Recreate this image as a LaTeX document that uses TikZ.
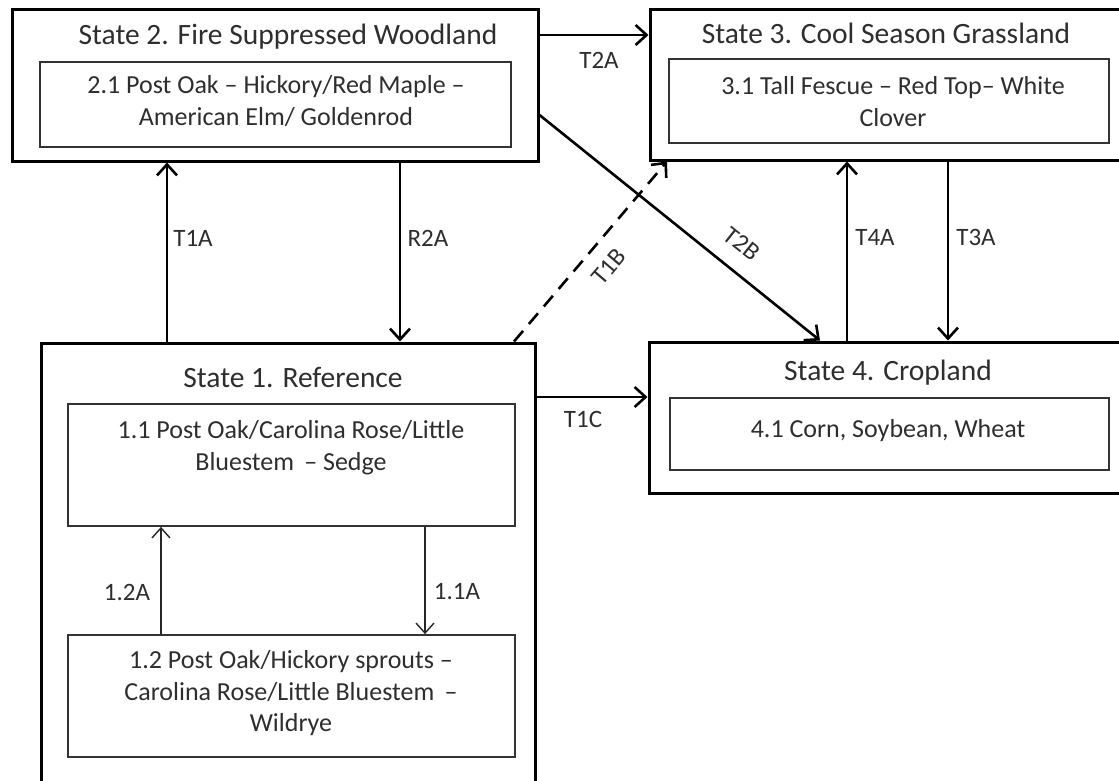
\documentclass[tikz,border=0pt]{standalone}
\usepackage{fontspec}
\setmainfont{Carlito}
\usetikzlibrary{arrows.meta}
\begin{document}
\begin{tikzpicture}[x=1pt,y=-1pt,
  outerbox/.style={draw=black,line width=3pt,rectangle,inner sep=0pt},
  innerbox/.style={draw=black!80,line width=1.8pt,rectangle,inner sep=0pt},
  title/.style={text=black!82,font=\fontsize{29.5}{34}\selectfont,inner sep=0pt},
  txt/.style={text=black!82,font=\fontsize{26}{31.5}\selectfont,align=center,inner sep=0pt},
  lbl/.style={text=black!82,font=\fontsize{25}{28}\selectfont,inner sep=0pt},
  arr/.style={line width=2.6pt,-{Straight Barb[length=11pt,width=20pt,line width=2.6pt]}},
  thinarr/.style={line width=1.4pt,black!85,-{Straight Barb[length=10pt,width=18pt,line width=1.4pt]}}
]
\useasboundingbox (0,0) rectangle (1119,780);
\clip (0,0) rectangle (1119,780);
\fill[white] (0,0) rectangle (1119,780);

% outer state boxes
\node[outerbox,minimum width=526pt,minimum height=152pt] (s2) at (275,85) {};
\node[outerbox,minimum width=480pt,minimum height=151pt] (s3) at (890,84.5) {};
\node[outerbox,minimum width=494pt,minimum height=450pt] (s1) at (288,568) {};
\node[outerbox,minimum width=481pt,minimum height=151pt] (s4) at (889.5,417.5) {};

% titles
\node[title] (t2) at (288,37) {State 2. Fire Suppressed Woodland};
\node[title] (t3) at (886,33) {State 3. Cool Season Grassland};
\node[title] (t1) at (293,377) {State 1. Reference};
\node[title] (t4) at (888,373) {State 4. Cropland};

% inner community boxes
\node[innerbox,minimum width=471pt,minimum height=85pt] (c21) at (275.5,104.5) {};
\node[txt] (c21t) at (276,101) {2.1 Post Oak -- Hickory/Red Maple --\\American Elm/ Goldenrod};
\node[innerbox,minimum width=440pt,minimum height=84pt] (c31) at (889,101) {};
\node[txt] (c31t) at (893,101.5) {3.1 Tall Fescue -- Red Top-- White\\Clover};
\node[innerbox,minimum width=439pt,minimum height=72pt] (c41) at (889.5,434) {};
\node[txt] (c41t) at (888,431) {4.1 Corn, Soybean, Wheat};
\node[innerbox,minimum width=447pt,minimum height=122pt] (c11) at (291.5,465) {};
\node[txt] (c11t) at (291,447.5) {1.1 Post Oak/Carolina Rose/Little\\Bluestem \,-- Sedge};
\node[innerbox,minimum width=447pt,minimum height=122pt] (c12) at (291.5,696) {};
\node[txt] (c12t) at (291,693.5) {1.2 Post Oak/Hickory sprouts --\\Carolina Rose/Little Bluestem \,--\\Wildrye};

% x / y positions of connectors
\coordinate (xT1A) at (167,0);
\coordinate (xR2A) at (400,0);
\coordinate (xT4A) at (847,0);
\coordinate (xT3A) at (948,0);
\coordinate (x12A) at (161,0);
\coordinate (x11A) at (425,0);
\coordinate (yT2A) at (0,35);
\coordinate (yT1C) at (0,397);
\coordinate (yT2Bs) at (0,115);
\coordinate (xT2Be) at (820,0);
\coordinate (xT1Bs) at (514,0);
\coordinate (xT1Be) at (667,0);

% connectors
\draw[arr] (s1.north -| xT1A) -- (s2.south -| xT1A);
\draw[arr] (s2.south -| xR2A) -- (s1.north -| xR2A);
\draw[arr] (s2.east |- yT2A) -- (s3.west |- yT2A);
\draw[arr] (s2.east |- yT2Bs) -- (s4.north -| xT2Be);
\draw[arr,dashed,dash pattern=on 14pt off 9pt] (s1.north -| xT1Bs) -- (s3.south -| xT1Be);
\draw[arr] (s1.east |- yT1C) -- (s4.west |- yT1C);
\draw[arr] (s4.north -| xT4A) -- (s3.south -| xT4A);
\draw[arr] (s3.south -| xT3A) -- (s4.north -| xT3A);
\draw[thinarr] (c12.north -| x12A) -- (c11.south -| x12A);
\draw[thinarr] (c11.south -| x11A) -- (c12.north -| x11A);

% connector labels
\node[lbl] (lT1A) at (193,238) {T1A};
\node[lbl] (lR2A) at (428,238) {R2A};
\node[lbl] (lT2A) at (599,60) {T2A};
\node[lbl,rotate=-38.6] (lT2B) at (742,244) {T2B};
\node[lbl,rotate=49.5] (lT1B) at (609,267) {T1B};
\node[lbl] (lT1C) at (583,419) {T1C};
\node[lbl] (lT4A) at (875,237) {T4A};
\node[lbl] (lT3A) at (976,237) {T3A};
\node[lbl] (l12A) at (127,592) {1.2A};
\node[lbl] (l11A) at (457,592) {1.1A};
\end{tikzpicture}
\end{document}
